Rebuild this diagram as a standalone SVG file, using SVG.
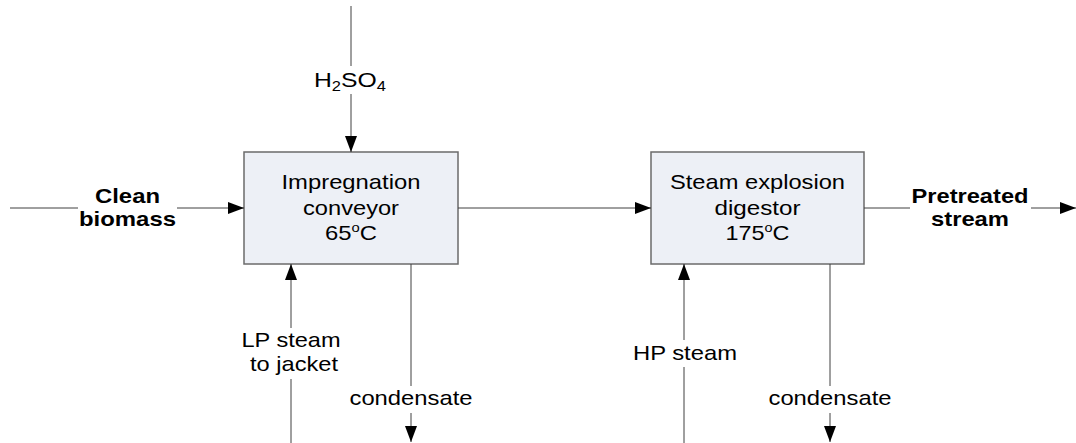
<svg xmlns="http://www.w3.org/2000/svg" width="1076" height="443" viewBox="0 0 1076 443">
  <style>
    .box { fill: #edf0f6; stroke: #6b6b6b; stroke-width: 1.5; }
    .flow { fill: none; stroke: #404040; stroke-width: 1; }
    .lbl { font-family: "Liberation Sans", Arial, sans-serif; font-size: 21px; fill: #000; text-anchor: middle; }
    .bold { font-weight: bold; }
  </style>
  <defs>
    <marker id="arrow" markerUnits="userSpaceOnUse" markerWidth="16" markerHeight="12" refX="16" refY="6" orient="auto">
      <path d="M0,0 L16,6 L0,12 Z" fill="#000"/>
    </marker>
  </defs>

  <rect width="1076" height="443" fill="#fff"/>

  <!-- process units -->
  <g id="impregnation-conveyor">
    <rect class="box" x="244" y="152" width="214" height="112"/>
    <text class="lbl" x="351" y="189" textLength="139" lengthAdjust="spacingAndGlyphs">Impregnation</text>
    <text class="lbl" x="351" y="214.5" textLength="96" lengthAdjust="spacingAndGlyphs">conveyor</text>
    <text class="lbl" x="351" y="240" textLength="52" lengthAdjust="spacingAndGlyphs">65<tspan dy="-8" font-size="13">o</tspan><tspan dy="8">C</tspan></text>
  </g>

  <g id="steam-explosion-digestor">
    <rect class="box" x="651" y="152" width="213" height="112"/>
    <text class="lbl" x="757.5" y="189" textLength="175" lengthAdjust="spacingAndGlyphs">Steam explosion</text>
    <text class="lbl" x="757.5" y="214.5" textLength="86" lengthAdjust="spacingAndGlyphs">digestor</text>
    <text class="lbl" x="757.5" y="240" textLength="64" lengthAdjust="spacingAndGlyphs">175<tspan dy="-8" font-size="13">o</tspan><tspan dy="8">C</tspan></text>
  </g>

  <!-- streams -->
  <g id="connectors">
    <!-- clean biomass feed -->
    <path class="flow" d="M10,208 H78"/>
    <path class="flow" d="M177,208 H244" marker-end="url(#arrow)"/>
    <!-- conveyor to digestor -->
    <path class="flow" d="M458,208 H651" marker-end="url(#arrow)"/>
    <!-- pretreated product -->
    <path class="flow" d="M864,208 H910"/>
    <path class="flow" d="M1031,208 H1076" marker-end="url(#arrow)"/>
    <!-- acid feed -->
    <path class="flow" d="M351,6 V66"/>
    <path class="flow" d="M351,94 V152" marker-end="url(#arrow)"/>
    <!-- LP steam to jacket -->
    <path class="flow" d="M291,443 V379"/>
    <path class="flow" d="M291,328 V264" marker-end="url(#arrow)"/>
    <!-- conveyor condensate -->
    <path class="flow" d="M411,264 V386"/>
    <path class="flow" d="M411,413 V442" marker-end="url(#arrow)"/>
    <!-- HP steam -->
    <path class="flow" d="M684,443 V367"/>
    <path class="flow" d="M684,340 V264" marker-end="url(#arrow)"/>
    <!-- digestor condensate -->
    <path class="flow" d="M830,264 V386"/>
    <path class="flow" d="M830,413 V442" marker-end="url(#arrow)"/>
  </g>

  <!-- stream labels -->
  <g id="stream-labels">
    <text class="lbl bold" x="127.5" y="203" textLength="65" lengthAdjust="spacingAndGlyphs">Clean</text>
    <text class="lbl bold" x="127.5" y="226" textLength="97" lengthAdjust="spacingAndGlyphs">biomass</text>
    <text class="lbl bold" x="970" y="203" textLength="117" lengthAdjust="spacingAndGlyphs">Pretreated</text>
    <text class="lbl bold" x="970" y="226" textLength="78" lengthAdjust="spacingAndGlyphs">stream</text>
    <text class="lbl" x="350" y="87" textLength="72" lengthAdjust="spacingAndGlyphs">H<tspan dy="4" font-size="14">2</tspan><tspan dy="-4">SO</tspan><tspan dy="4" font-size="14">4</tspan></text>
    <text class="lbl" x="291" y="347" textLength="99" lengthAdjust="spacingAndGlyphs">LP steam</text>
    <text class="lbl" x="294" y="371" textLength="88" lengthAdjust="spacingAndGlyphs">to jacket</text>
    <text class="lbl" x="411" y="405" textLength="123" lengthAdjust="spacingAndGlyphs">condensate</text>
    <text class="lbl" x="685" y="360" textLength="104" lengthAdjust="spacingAndGlyphs">HP steam</text>
    <text class="lbl" x="830" y="404.5" textLength="123" lengthAdjust="spacingAndGlyphs">condensate</text>
  </g>
</svg>
